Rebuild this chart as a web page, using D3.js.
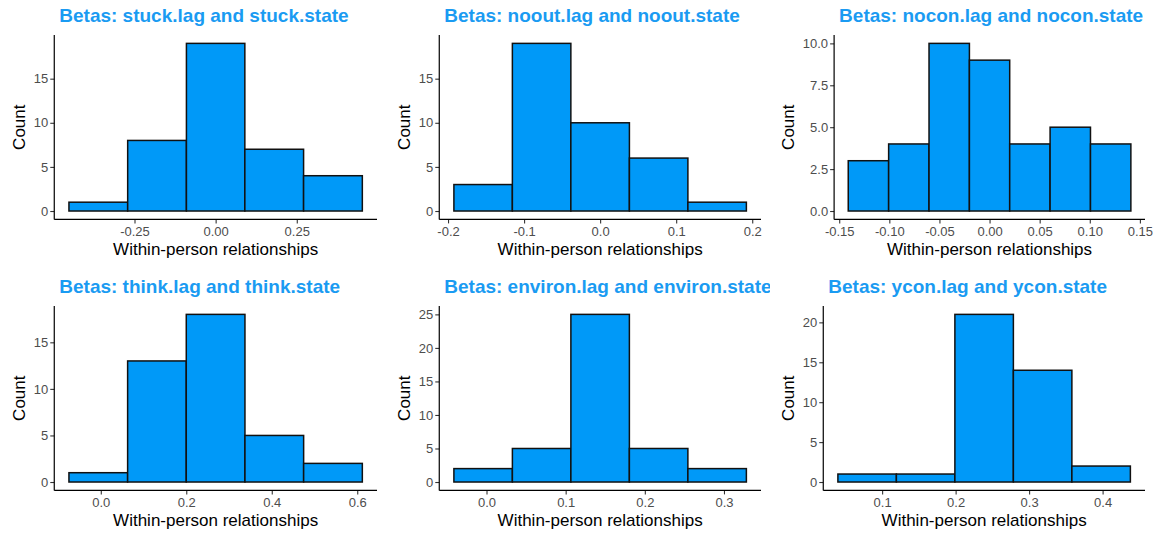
<!DOCTYPE html>
<html>
<head>
<meta charset="utf-8">
<script src="https://cdn.jsdelivr.net/npm/d3@7"></script>
<style>
  html, body { margin: 0; padding: 0; background: #ffffff; }
  svg { display: block; font-family: "Liberation Sans", Arial, sans-serif; }
</style>
</head>
<body>
<svg id="chart" width="1164" height="538"></svg>
<script>
// Histogram bin edges and counts for each lag/state pair
const stuckEdges   = [-0.452, -0.271, -0.090, 0.090, 0.271, 0.452];
const stuckCounts  = [1, 8, 19, 7, 4];
const stuckTicks   = [-0.25, 0, 0.25];

const nooutEdges   = [-0.1923, -0.1154, -0.0385, 0.0385, 0.1154, 0.1923];
const nooutCounts  = [3, 19, 10, 6, 1];
const nooutTicks   = [-0.2, -0.1, 0, 0.1, 0.2];

const noconEdges   = [-0.141, -0.1007, -0.0604, -0.0201, 0.0201, 0.0604, 0.1007, 0.141];
const noconCounts  = [3, 4, 10, 9, 4, 5, 4];
const noconTicks   = [-0.15, -0.10, -0.05, 0, 0.05, 0.10, 0.15];

const thinkEdges   = [-0.0745, 0.0628, 0.2, 0.3373, 0.4746, 0.6119];
const thinkCounts  = [1, 13, 18, 5, 2];
const thinkTicks   = [0, 0.2, 0.4, 0.6];

const environEdges = [-0.0412, 0.0327, 0.1066, 0.1805, 0.2544, 0.3283];
const environCounts= [2, 5, 25, 5, 2];
const environTicks = [0, 0.1, 0.2, 0.3];

const yconEdges    = [0.0398, 0.1194, 0.199, 0.2786, 0.3582, 0.4378];
const yconCounts   = [1, 1, 21, 14, 2];
const yconTicks    = [0.1, 0.2, 0.3, 0.4];

const panelTitles = [
  "Betas: stuck.lag and stuck.state",
  "Betas: noout.lag and noout.state",
  "Betas: nocon.lag and nocon.state",
  "Betas: think.lag and think.state",
  "Betas: environ.lag and environ.state",
  "Betas: ycon.lag and ycon.state"
];
const countTicks = [
  [0, 5, 10, 15],
  [0, 5, 10, 15],
  [0, 2.5, 5, 7.5, 10],
  [0, 5, 10, 15],
  [0, 5, 10, 15, 20, 25],
  [0, 5, 10, 15, 20]
];
const xTickFormats = [".2f", ".1f", ".2f", ".1f", ".1f", ".1f"];
const yTickFormats = ["d", "d", ".1f", "d", "d", "d"];

const panels = [
  { edges: stuckEdges,   counts: stuckCounts,   xticks: stuckTicks },
  { edges: nooutEdges,   counts: nooutCounts,   xticks: nooutTicks },
  { edges: noconEdges,   counts: noconCounts,   xticks: noconTicks },
  { edges: thinkEdges,   counts: thinkCounts,   xticks: thinkTicks },
  { edges: environEdges, counts: environCounts, xticks: environTicks },
  { edges: yconEdges,    counts: yconCounts,    xticks: yconTicks }
].map((p, i) => ({ ...p, title: panelTitles[i], yticks: countTicks[i],
                   xfmt: xTickFormats[i], yfmt: yTickFormats[i] }));

// Grid layout
const colX = [0, 385, 769];
const colRight = [377, 761, 1145];
const colClip = [385, 770, 1164];
const rowTop = [35, 306];
const rowBottom = [219.4, 490.4];
const leftBase = 39.8;

const FILL = "#0099f8";
const TITLE_COLOR = "#1a9bf2";
const TICK_FONT = 13;
const AXIS_TITLE_FONT = 17;
const TITLE_FONT = 19;

const svg = d3.select("#chart");
const defs = svg.append("defs");

// text measuring helper
const measurer = svg.append("text")
  .attr("font-size", TICK_FONT).attr("visibility", "hidden");
function textWidth(s) { measurer.text(s); return measurer.node().getComputedTextLength(); }

const hyphen = f => d => d3.format(f)(d).replace("\u2212", "-");

panels.forEach((p, i) => {
  const col = i % 3, row = Math.floor(i / 3);
  const yFmt = hyphen(p.yfmt), xFmt = hyphen(p.xfmt);
  const maxLab = d3.max(p.yticks, t => textWidth(yFmt(t)));
  const left = colX[col] + leftBase + maxLab;
  const right = colRight[col];
  const top = rowTop[row], bottom = rowBottom[row];

  const lo = p.edges[0], hi = p.edges[p.edges.length - 1];
  const padX = (hi - lo) * 0.05;
  const x = d3.scaleLinear().domain([lo - padX, hi + padX]).range([left, right]);
  const maxC = d3.max(p.counts);
  const y = d3.scaleLinear().domain([-0.05 * maxC, maxC * 1.05]).range([bottom, top]);

  const clipId = "cell" + i;
  defs.append("clipPath").attr("id", clipId)
    .append("rect")
    .attr("x", colX[col]).attr("y", row === 0 ? 0 : 270)
    .attr("width", colClip[col] - colX[col]).attr("height", 270);

  const g = svg.append("g").attr("clip-path", `url(#${clipId})`);

  // bars
  const bins = p.counts.map((c, k) => ({ x0: p.edges[k], x1: p.edges[k + 1], c }));
  g.append("g").selectAll("rect").data(bins).join("rect")
    .attr("x", d => x(d.x0))
    .attr("width", d => x(d.x1) - x(d.x0))
    .attr("y", d => y(d.c))
    .attr("height", d => y(0) - y(d.c))
    .attr("fill", FILL)
    .attr("stroke", "#111")
    .attr("stroke-width", 1.5);

  // x axis
  const xAxis = g.append("g").attr("transform", `translate(0,${bottom})`)
    .call(d3.axisBottom(x).tickValues(p.xticks).tickFormat(xFmt)
      .tickSize(4).tickSizeOuter(0).tickPadding(3.5));
  xAxis.select(".domain").remove();
  xAxis.append("line").attr("x1", left).attr("x2", right)
    .attr("stroke", "#000").attr("stroke-width", 1.2);

  // y axis
  const yAxis = g.append("g").attr("transform", `translate(${left},0)`)
    .call(d3.axisLeft(y).tickValues(p.yticks).tickFormat(yFmt)
      .tickSize(4).tickSizeOuter(0).tickPadding(2));
  yAxis.select(".domain").remove();
  yAxis.append("line").attr("y1", top).attr("y2", bottom)
    .attr("stroke", "#000").attr("stroke-width", 1.2);

  [xAxis, yAxis].forEach(a => {
    a.attr("font-family", null).attr("font-size", null);
    a.selectAll(".tick line").attr("stroke", "#333").attr("stroke-width", 1.1);
    a.selectAll(".tick text").attr("fill", "#4d4d4d").attr("font-size", TICK_FONT);
  });

  // axis titles
  g.append("text")
    .attr("x", (left + right) / 2).attr("y", bottom + 36)
    .attr("text-anchor", "middle").attr("font-size", AXIS_TITLE_FONT).attr("fill", "#000")
    .text("Within-person relationships");

  const labLeft = left - 6 - maxLab;
  g.append("text")
    .attr("transform", `translate(${labLeft - 9},${(top + bottom) / 2}) rotate(-90)`)
    .attr("text-anchor", "middle").attr("font-size", AXIS_TITLE_FONT).attr("fill", "#000")
    .text("Count");

  // panel title
  g.append("text")
    .attr("x", left + 5).attr("y", top - 13.5)
    .attr("font-size", TITLE_FONT).attr("font-weight", "bold").attr("fill", TITLE_COLOR)
    .text(p.title);
});
measurer.remove();
</script>
</body>
</html>
